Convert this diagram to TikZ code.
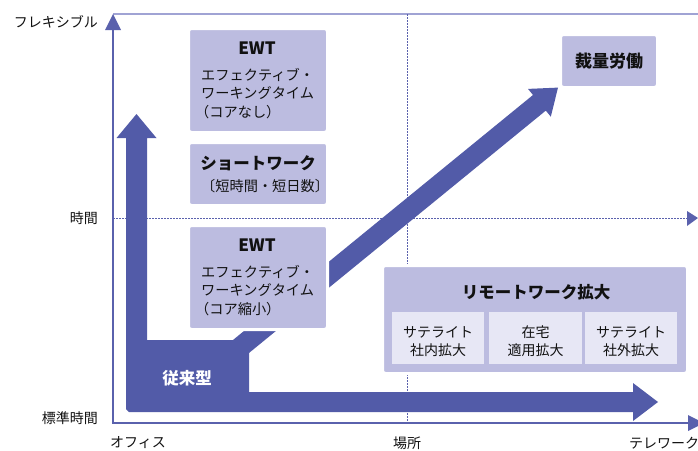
\documentclass[tikz,border=0pt]{standalone}
\usepackage{fontspec}
\setmainfont{Noto Sans CJK JP}
\definecolor{arrowc}{HTML}{525BA8}
\definecolor{boxc}{HTML}{BCBCE0}
\definecolor{cellc}{HTML}{E7E7F5}
\definecolor{axisc}{HTML}{5A61AD}
\definecolor{framec}{HTML}{A0A3D4}
\definecolor{txtc}{HTML}{111111}
\newcommand{\myfs}[1]{\fontsize{#1}{#1}\selectfont}
\begin{document}
\begin{tikzpicture}[x=1pt,y=-1pt,
  box/.style={fill=boxc, draw=white, line width=3pt, rounded corners=3pt, inner sep=0pt},
  cell/.style={fill=cellc, inner sep=0pt, minimum height=52pt},
  lab/.style={text=txtc, inner sep=0pt, font=\myfs{14}},
  body/.style={text=txtc, inner sep=0pt, font=\myfs{14.2}, anchor=west},
  head/.style={text=txtc, inner sep=0pt, font=\myfs{16.5}\bfseries},
  celltxt/.style={text=txtc, inner sep=0pt, font=\myfs{14}, align=center},
  dotl/.style={axisc, line width=1pt, dash pattern=on 1.6pt off 1.4pt},
  axisl/.style={axisc, line width=2.5pt}]
\useasboundingbox (0,0) rectangle (698,450);

% coordinates of axes
\coordinate (O) at (113,423);
\coordinate (Ytop) at (113,29);
\coordinate (Xend) at (689,423);
\coordinate (F0) at (113,14);
\coordinate (F1) at (700,14);
\coordinate (M0) at (113,218);
\coordinate (M1) at (688,218);
\coordinate (P0) at (407,14);
\coordinate (P1) at (407,423);

% frame and guide lines
\draw[framec, line width=2pt] (F0) -- (F1);
\draw[dotl] (M0) -- (M1);
\fill[axisc] (687,211) -- (698,218) -- (687,226) -- cycle;
\draw[dotl] (P0) -- (P1);

% axes
\draw[axisl] (O) -- (Ytop);
\fill[axisc] (105,30) -- (113,14) -- (121,30) -- cycle;
\draw[axisl] ([xshift=-1.25pt]O) -- (Xend);
\fill[axisc] (688,415) -- (704,423) -- (688,431) -- cycle;

% big arrows
\fill[arrowc] (180,412) -- (129,412) -- (126,409) -- (126,138) -- (116.5,138) -- (136.5,114)
  -- (156.5,138) -- (147,138) -- (147,340) -- (249,340) -- (249,392) -- (633,392)
  -- (633,383) -- (658,402) -- (633,421) -- (633,412) -- cycle;
\fill[arrowc] (214.6,355.0) -- (533.0,95.0) -- (528.0,88.9) -- (558.0,87.6)
  -- (550.8,116.7) -- (545.8,110.6) -- (227.4,370.6) -- cycle;

\node[text=white, inner sep=0pt, font=\myfs{16.5}\bfseries] (trad) at (187,378) {従来型};

% boxes
\node[box, minimum width=139pt, minimum height=104pt] (ewt1) at (258,80.5) {};
\node[head, font=\myfs{17}\bfseries] (ewt1h) at (257,48) {EWT};
\node[body] (ewt1a) at (201,75) {エフェクティブ・};
\node[body] (ewt1b) at (201,93.5) {ワーキングタイム};
\node[body] (ewt1c) at (195,112) {（コアなし）};

\node[box, minimum width=139pt, minimum height=63pt] (short) at (258,174) {};
\node[head] (shorth) at (258,163) {ショートワーク};
\node[body] (shorta) at (201,186.5) {〔短時間・短日数〕};

\node[box, minimum width=139pt, minimum height=104pt] (ewt2) at (258,277.5) {};
\node[head, font=\myfs{17}\bfseries] (ewt2h) at (257,245) {EWT};
\node[body] (ewt2a) at (201,272) {エフェクティブ・};
\node[body] (ewt2b) at (201,290.5) {ワーキングタイム};
\node[body] (ewt2c) at (195,309) {（コア縮小）};

\node[box, minimum width=97pt, minimum height=53pt] (sairyo) at (609,61) {};
\node[head, font=\myfs{17}\bfseries] (sairyoh) at (609,61) {裁量労働};

\node[box, minimum width=305pt, minimum height=108pt] (remote) at (535,319.5) {};
\node[head] (remoteh) at (536,292) {リモートワーク拡大};
\node[cell, minimum width=92pt] (c1) at (438,338) {};
\node[cell, minimum width=93pt] (c2) at (535.5,338) {};
\node[cell, minimum width=92pt] (c3) at (631,338) {};
\node[celltxt] (c1a) at (438,332) {サテライト};
\node[celltxt] (c1b) at (438,350) {社内拡大};
\node[celltxt] (c2a) at (535.5,332) {在宅};
\node[celltxt] (c2b) at (535.5,350) {適用拡大};
\node[celltxt] (c3a) at (631,332) {サテライト};
\node[celltxt] (c3b) at (631,350) {社外拡大};

% axis labels
\node[lab, anchor=east] (flex) at (98,22) {フレキシブル};
\node[lab, anchor=east] (jikan) at (98,218) {時間};
\node[lab, anchor=east] (std) at (98,418) {標準時間};
\node[lab, anchor=west] (office) at (110,443) {オフィス};
\node[lab] (basho) at (407,443) {場所};
\node[lab, anchor=west] (tele) at (629,443) {テレワーク};
\end{tikzpicture}
\end{document}
